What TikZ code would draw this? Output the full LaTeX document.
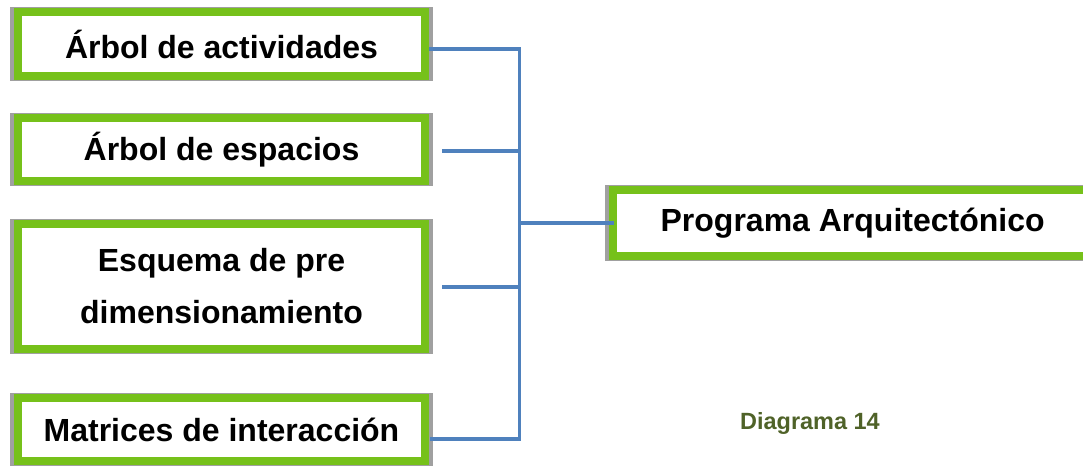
\documentclass[tikz,border=0pt]{standalone}
\usepackage{fontspec}
\setmainfont{Liberation Sans}
\usetikzlibrary{calc}
\definecolor{boxgreen}{HTML}{76C11A}
\definecolor{shadowgray}{HTML}{A0A0A0}
\definecolor{connblue}{HTML}{4F81BD}
\definecolor{captiongreen}{HTML}{4F6228}
\tikzset{
  greenbox/.style={draw=boxgreen, line width=6pt, fill=white, rectangle,
    inner sep=0pt, outer sep=0pt, align=center,
    font=\bfseries\fontsize{24}{39}\selectfont},
  shadowbox/.style={fill=shadowgray},
  conn/.style={draw=connblue, line width=2.6pt},
  caption/.style={text=captiongreen, font=\bfseries\fontsize{17.6}{21}\selectfont}
}
\begin{document}
\begin{tikzpicture}[x=0.75pt,y=-0.75pt]
\useasboundingbox (0,0) rectangle (1083,466);
% shadows
\fill[shadowbox] (10,7) rectangle (433,81);
\fill[shadowbox] (10,113) rectangle (433,186);
\fill[shadowbox] (10,219) rectangle (433,354);
\fill[shadowbox] (10,393) rectangle (433,466);
\fill[shadowbox] (605,185) rectangle (1095,261);
% boxes
\node[greenbox, minimum width=305.25pt, minimum height=48pt] (b1) at (221.5,44) {Árbol de actividades};
\node[greenbox, minimum width=305.25pt, minimum height=47.25pt] (b2) at (221.5,149.5) {Árbol de espacios};
\node[greenbox, minimum width=305.25pt, minimum height=93.75pt] (b3) at (221.5,286.5) {Esquema de pre\\dimensionamiento};
\node[greenbox, minimum width=305.25pt, minimum height=47.25pt] (b4) at (221.5,429.5) {Matrices de interacción};
\node[greenbox, minimum width=355.5pt, minimum height=49.5pt] (pa) at (850,223) {\hspace*{4pt}Programa Arquitectónico};
% trunk coordinates
\coordinate (t1) at (519.5,49);
\coordinate (t2) at (519.5,151);
\coordinate (t3) at (519.5,287);
\coordinate (t4) at (519.5,439);
\coordinate (tp) at (519.5,223);
% connectors
\draw[conn] ($(b1.east)+(4,5)$) -- (t1) -- (t4) -- ($(b4.east)+(5,9.5)$);
\draw[conn] ($(b2.east)+(17,1.5)$) -- (t2);
\draw[conn] ($(b3.east)+(17,0.5)$) -- (t3);
\draw[conn] (tp) -- ($(pa.west)+(1,0)$);
% caption
\node[caption] (cap) at (810,423) {Diagrama 14};
\end{tikzpicture}
\end{document}
